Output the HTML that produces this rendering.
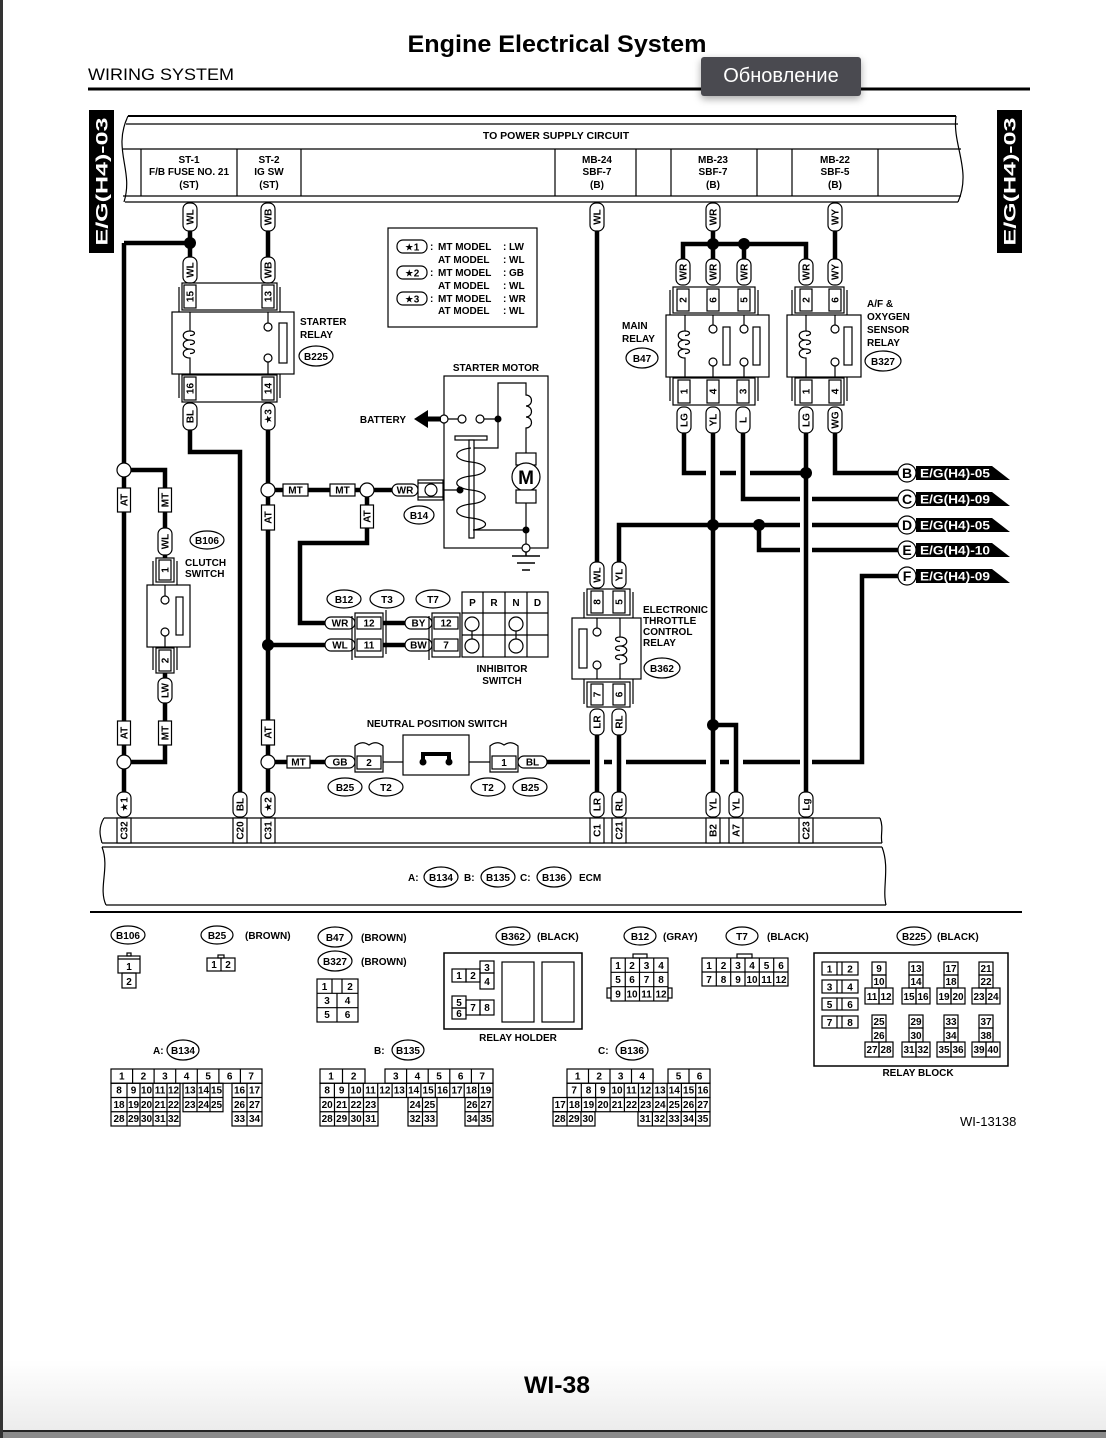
<!DOCTYPE html>
<html><head><meta charset="utf-8">
<style>
html,body{margin:0;padding:0;background:#fff;}
body{width:1106px;height:1438px;position:relative;overflow:hidden;}
svg{position:absolute;left:0;top:0;}
text{font-family:"Liberation Sans",Arial,"DejaVu Sans",sans-serif;font-weight:bold;font-size:10px;fill:#000;}
.c{text-anchor:middle}
.n{font-weight:normal;font-size:9.5px}
.w{stroke:#000;stroke-width:4.5;fill:none}
.t{stroke:#000;stroke-width:1.2;fill:none}
.p{fill:#fff;stroke:#000;stroke-width:1.2}
.k{fill:#000}
.tip{position:absolute;left:701px;top:57px;width:160px;height:39px;background:#4a4a50;border-radius:3px;box-shadow:0 3px 8px rgba(0,0,0,.35);color:#fff;font-family:"Liberation Sans","DejaVu Sans",sans-serif;font-size:20px;line-height:39px;text-align:center;}
</style></head><body>
<svg width="1106" height="1438" viewBox="0 0 1106 1438">
<defs><linearGradient id="g" x1="0" y1="0" x2="0" y2="1"><stop offset="0" stop-color="#fff"/><stop offset="1" stop-color="#ececec"/></linearGradient></defs>
<rect x="0" y="1360" width="1106" height="71" fill="url(#g)"/>
<rect x="0" y="1430" width="1106" height="2" fill="#222"/>
<rect x="0" y="1432" width="1106" height="6" fill="#8a8a8a"/>
<rect x="0" y="0" width="3" height="1438" fill="#333"/>

<!-- header -->
<text x="557" y="52" class="c" textLength="299" lengthAdjust="spacingAndGlyphs" style="font-size:24px">Engine Electrical System</text>
<text x="88" y="80" style="font-size:17px;font-weight:normal" textLength="146" lengthAdjust="spacingAndGlyphs">WIRING SYSTEM</text>
<rect x="88" y="87.5" width="942" height="3" class="k"/>

<!-- side tabs -->
<rect x="89" y="110" width="25" height="143" class="k"/>
<text transform="translate(101.5,181.5) rotate(-90)" y="6" class="c" style="font-size:17px;fill:#fff" textLength="128" lengthAdjust="spacingAndGlyphs">E/G(H4)-03</text>
<rect x="997" y="110" width="25" height="143" class="k"/>
<text transform="translate(1009.5,181.5) rotate(-90)" y="6" class="c" style="font-size:17px;fill:#fff" textLength="128" lengthAdjust="spacingAndGlyphs">E/G(H4)-03</text>

<!-- power supply box -->
<path d="M128,116 H956" stroke="#000" stroke-width="2"/>
<path class="t" d="M126,124 H958 M123,149 H961 M123,196 H961 M125,202 H958"/>
<path class="t" stroke-width="1.5" d="M128,116 C112,150 134,170 124,202"/>
<path class="t" stroke-width="1.5" d="M956,116 C952,145 972,170 958,202"/>
<path class="t" d="M141,149V196 M237,149V196 M301,149V196 M555,149V196 M636,149V196 M671,149V196 M757,149V196 M792,149V196 M878,149V196"/>
<text x="556" y="139" class="c" style="font-size:10.5px">TO POWER SUPPLY CIRCUIT</text>
<text x="189" y="163" class="c">ST-1</text><text x="189" y="175" class="c">F/B FUSE NO. 21</text><text x="189" y="188" class="c">(ST)</text>
<text x="269" y="163" class="c">ST-2</text><text x="269" y="175" class="c">IG SW</text><text x="269" y="188" class="c">(ST)</text>
<text x="597" y="163" class="c">MB-24</text><text x="597" y="175" class="c">SBF-7</text><text x="597" y="188" class="c">(B)</text>
<text x="713" y="163" class="c">MB-23</text><text x="713" y="175" class="c">SBF-7</text><text x="713" y="188" class="c">(B)</text>
<text x="835" y="163" class="c">MB-22</text><text x="835" y="175" class="c">SBF-5</text><text x="835" y="188" class="c">(B)</text>

<!-- legend -->
<rect x="388" y="228" width="149" height="99" class="t" stroke-width="1.5"/>
<rect x="397" y="240" width="30" height="13" rx="6" class="p"/><text x="412" y="250.5" class="c">★1</text>
<rect x="397" y="266" width="30" height="13" rx="6" class="p"/><text x="412" y="276.5" class="c">★2</text>
<rect x="397" y="292" width="30" height="13" rx="6" class="p"/><text x="412" y="302.5" class="c">★3</text>
<g style="font-size:10.5px">
<text x="430" y="250">:</text><text x="438" y="250">MT MODEL</text><text x="503" y="250">:</text><text x="509" y="250">LW</text>
<text x="438" y="263">AT MODEL</text><text x="503" y="263">:</text><text x="509" y="263">WL</text>
<text x="430" y="276">:</text><text x="438" y="276">MT MODEL</text><text x="503" y="276">:</text><text x="509" y="276">GB</text>
<text x="438" y="289">AT MODEL</text><text x="503" y="289">:</text><text x="509" y="289">WL</text>
<text x="430" y="302">:</text><text x="438" y="302">MT MODEL</text><text x="503" y="302">:</text><text x="509" y="302">WR</text>
<text x="438" y="314">AT MODEL</text><text x="503" y="314">:</text><text x="509" y="314">WL</text>
</g>

<!-- thick wires -->
<path class="w" d="M124,243 H190 M190,231 V257 M124,243 V792 M268,231 V257 M190,430 V452 H240 V792 M268,430 V792 M124,470 H165 V528 M165,555 V558 M165,673 V678 M165,703 V762 H124 M268,490 H392 M367,490 V543 H300 V623 H325 M268,645 H325 M383,623 H405 M383,645 H405 M268,762 H325"/>
<path class="w" d="M597,231 V562 M597,735 V792 M619,735 V792 M713,231 V259 M713,433 V792 M713,725 H736 V792 M806,433 V792 M835,231 V259 M683,259 V244 H806 V259 M744,244 V259"/>
<path class="w" d="M684,433 V473 H706 M720,473 H736 M750,473 H806 M835,433 V473 H898 M743,433 V499 H800 M812,499 H898 M619,562 V525 H800 M812,525 H898 M759,525 V550 H800 M812,550 H898 M547,762 H590 M604,762 H612 M626,762 H706 M720,762 H729 M743,762 H800 M812,762 H862 V576 H898"/>

<!-- dots -->
<g class="k"><circle cx="190" cy="243" r="6"/><circle cx="268" cy="645" r="6"/><circle cx="713" cy="244" r="6"/><circle cx="744" cy="244" r="6"/><circle cx="806" cy="473" r="6"/><circle cx="713" cy="525" r="6"/><circle cx="759" cy="525" r="6"/><circle cx="713" cy="725" r="6"/></g>
<!-- open circles -->
<g class="p" stroke-width="1.5"><circle cx="124" cy="470" r="7"/><circle cx="124" cy="762" r="7"/><circle cx="268" cy="490" r="7"/><circle cx="367" cy="490" r="7"/><circle cx="268" cy="762" r="7"/></g>

<!-- pills vertical -->
<g class="p">
<rect x="183" y="203" width="14" height="28" rx="6"/><rect x="261" y="203" width="14" height="28" rx="6"/><rect x="590" y="203" width="14" height="28" rx="6"/><rect x="706" y="203" width="14" height="28" rx="6"/><rect x="828" y="203" width="14" height="28" rx="6"/>
<rect x="183" y="257" width="14" height="26" rx="6"/><rect x="261" y="257" width="14" height="26" rx="6"/>
<rect x="676" y="259" width="14" height="26" rx="6"/><rect x="706" y="259" width="14" height="26" rx="6"/><rect x="737" y="259" width="14" height="26" rx="6"/><rect x="799" y="259" width="14" height="26" rx="6"/><rect x="828" y="259" width="14" height="26" rx="6"/>
<rect x="183" y="403" width="14" height="27" rx="6"/><rect x="261" y="403" width="14" height="27" rx="6"/>
<rect x="677" y="407" width="14" height="26" rx="6"/><rect x="706" y="407" width="14" height="26" rx="6"/><rect x="736" y="407" width="14" height="26" rx="6"/><rect x="799" y="407" width="14" height="26" rx="6"/><rect x="828" y="407" width="14" height="26" rx="6"/>
<rect x="158" y="528" width="14" height="27" rx="6"/><rect x="158" y="678" width="14" height="25" rx="6"/>
<rect x="590" y="562" width="14" height="26" rx="6"/><rect x="612" y="562" width="14" height="26" rx="6"/><rect x="590" y="709" width="14" height="26" rx="6"/><rect x="612" y="709" width="14" height="26" rx="6"/>
<rect x="117" y="792" width="14" height="25" rx="6"/><rect x="233" y="792" width="14" height="25" rx="6"/><rect x="261" y="792" width="14" height="25" rx="6"/><rect x="590" y="792" width="14" height="25" rx="6"/><rect x="612" y="792" width="14" height="25" rx="6"/><rect x="706" y="792" width="14" height="25" rx="6"/><rect x="729" y="792" width="14" height="25" rx="6"/><rect x="799" y="792" width="14" height="25" rx="6"/>
</g>
<g class="c">
<text transform="translate(190,217) rotate(-90)" y="3.5">WL</text><text transform="translate(268,217) rotate(-90)" y="3.5">WB</text><text transform="translate(597,217) rotate(-90)" y="3.5">WL</text><text transform="translate(713,217) rotate(-90)" y="3.5">WR</text><text transform="translate(835,217) rotate(-90)" y="3.5">WY</text>
<text transform="translate(190,270) rotate(-90)" y="3.5">WL</text><text transform="translate(268,270) rotate(-90)" y="3.5">WB</text>
<text transform="translate(683,272) rotate(-90)" y="3.5">WR</text><text transform="translate(713,272) rotate(-90)" y="3.5">WR</text><text transform="translate(744,272) rotate(-90)" y="3.5">WR</text><text transform="translate(806,272) rotate(-90)" y="3.5">WR</text><text transform="translate(835,272) rotate(-90)" y="3.5">WY</text>
<text transform="translate(190,416.5) rotate(-90)" y="3.5">BL</text><text transform="translate(268,416.5) rotate(-90)" y="3.5">★3</text>
<text transform="translate(684,420) rotate(-90)" y="3.5">LG</text><text transform="translate(713,420) rotate(-90)" y="3.5">YL</text><text transform="translate(743,420) rotate(-90)" y="3.5">L</text><text transform="translate(806,420) rotate(-90)" y="3.5">LG</text><text transform="translate(835,420) rotate(-90)" y="3.5">WG</text>
<text transform="translate(165,541.5) rotate(-90)" y="3.5">WL</text><text transform="translate(165,690.5) rotate(-90)" y="3.5">LW</text>
<text transform="translate(597,575) rotate(-90)" y="3.5">WL</text><text transform="translate(619,575) rotate(-90)" y="3.5">YL</text><text transform="translate(597,722) rotate(-90)" y="3.5">LR</text><text transform="translate(619,722) rotate(-90)" y="3.5">RL</text>
<text transform="translate(124,804.5) rotate(-90)" y="3.5">★1</text><text transform="translate(240,804.5) rotate(-90)" y="3.5">BL</text><text transform="translate(268,804.5) rotate(-90)" y="3.5">★2</text><text transform="translate(597,804.5) rotate(-90)" y="3.5">LR</text><text transform="translate(619,804.5) rotate(-90)" y="3.5">RL</text><text transform="translate(713,804.5) rotate(-90)" y="3.5">YL</text><text transform="translate(736,804.5) rotate(-90)" y="3.5">YL</text><text transform="translate(806,804.5) rotate(-90)" y="3.5">Lg</text>
</g>

<!-- AT/MT square labels -->
<g class="p"><rect x="117.5" y="488" width="13" height="24"/><rect x="158.5" y="488" width="13" height="24"/><rect x="261.5" y="505" width="13" height="25"/><rect x="360.5" y="505" width="13" height="23"/><rect x="117.5" y="721" width="13" height="24"/><rect x="158.5" y="721" width="13" height="24"/><rect x="261.5" y="720" width="13" height="25"/>
<rect x="283" y="484" width="25" height="12"/><rect x="330" y="484" width="25" height="12"/><rect x="287" y="756" width="23" height="12"/></g>
<g class="c">
<text transform="translate(124,500) rotate(-90)" y="3.5">AT</text><text transform="translate(165,500) rotate(-90)" y="3.5">MT</text><text transform="translate(268,517.5) rotate(-90)" y="3.5">AT</text><text transform="translate(367,516.5) rotate(-90)" y="3.5">AT</text><text transform="translate(124,733) rotate(-90)" y="3.5">AT</text><text transform="translate(165,733) rotate(-90)" y="3.5">MT</text><text transform="translate(268,732.5) rotate(-90)" y="3.5">AT</text>
<text x="295.5" y="493.5">MT</text><text x="342.5" y="493.5">MT</text><text x="298.5" y="765.5">MT</text>
</g>

<!-- relay connectors -->
<g class="t">
<rect x="182" y="283" width="95" height="27"/><path d="M179,287V313 M280,287V313"/>
<rect x="182" y="375" width="95" height="27"/><path d="M179,372V398 M280,372V398"/>
<rect x="673" y="287" width="82" height="26"/><path d="M670,290V316 M758,290V316"/>
<rect x="673" y="378" width="82" height="27"/><path d="M670,375V401 M758,375V401"/>
<rect x="795" y="287" width="49" height="26"/><path d="M792,290V316 M847,290V316"/>
<rect x="795" y="378" width="49" height="27"/><path d="M792,375V401 M847,375V401"/>
<rect x="156" y="558" width="18" height="24"/><path d="M153,561V585 M177,561V585"/>
<rect x="156" y="648" width="18" height="25"/><path d="M153,645V670 M177,645V670"/>
<rect x="587" y="589" width="43" height="26"/><path d="M584,592V618 M633,592V618"/>
<rect x="587" y="682" width="43" height="25"/><path d="M584,679V704 M633,679V704"/>
</g>
<g class="p">
<rect x="184" y="285" width="12" height="23"/><rect x="262" y="285" width="12" height="23"/>
<rect x="184" y="377" width="12" height="23"/><rect x="262" y="377" width="12" height="23"/>
<rect x="677" y="289" width="12" height="22"/><rect x="707" y="289" width="12" height="22"/><rect x="738" y="289" width="12" height="22"/>
<rect x="678" y="380" width="12" height="23"/><rect x="707" y="380" width="12" height="23"/><rect x="737" y="380" width="12" height="23"/>
<rect x="800" y="289" width="12" height="22"/><rect x="829" y="289" width="12" height="22"/>
<rect x="800" y="380" width="12" height="23"/><rect x="829" y="380" width="12" height="23"/>
<rect x="159" y="560" width="12" height="20"/><rect x="159" y="650" width="12" height="21"/>
<rect x="591" y="591" width="12" height="22"/><rect x="613" y="591" width="12" height="22"/>
<rect x="591" y="684" width="12" height="21"/><rect x="613" y="684" width="12" height="21"/>
</g>
<g class="c" style="font-size:9.5px">
<text transform="translate(190,296.5) rotate(-90)" y="3.5">15</text><text transform="translate(268,296.5) rotate(-90)" y="3.5">13</text>
<text transform="translate(190,388.5) rotate(-90)" y="3.5">16</text><text transform="translate(268,388.5) rotate(-90)" y="3.5">14</text>
<text transform="translate(683,300) rotate(-90)" y="3.5">2</text><text transform="translate(713,300) rotate(-90)" y="3.5">6</text><text transform="translate(744,300) rotate(-90)" y="3.5">5</text>
<text transform="translate(684,391.5) rotate(-90)" y="3.5">1</text><text transform="translate(713,391.5) rotate(-90)" y="3.5">4</text><text transform="translate(743,391.5) rotate(-90)" y="3.5">3</text>
<text transform="translate(806,300) rotate(-90)" y="3.5">2</text><text transform="translate(835,300) rotate(-90)" y="3.5">6</text>
<text transform="translate(806,391.5) rotate(-90)" y="3.5">1</text><text transform="translate(835,391.5) rotate(-90)" y="3.5">4</text>
<text transform="translate(165,570) rotate(-90)" y="3.5">1</text><text transform="translate(165,660.5) rotate(-90)" y="3.5">2</text>
<text transform="translate(597,602) rotate(-90)" y="3.5">8</text><text transform="translate(619,602) rotate(-90)" y="3.5">5</text>
<text transform="translate(597,694.5) rotate(-90)" y="3.5">7</text><text transform="translate(619,694.5) rotate(-90)" y="3.5">6</text>
</g>

<!-- relays internals -->
<g class="t" stroke-width="1.3">
<rect x="172" y="312" width="122" height="62" class="p"/>
<path d="M190,312V331 c-9,0 -9,9 0,9 c-9,0 -9,9 0,9 c-9,0 -9,9 0,9 V374 M268,312V323 M268,362V374"/>
<path d="M190,331 c6,0 6,4.5 0,4.5 M190,340 c6,0 6,4.5 0,4.5 M190,349 c6,0 6,4.5 0,4.5"/>
<circle cx="268" cy="327" r="4"/><circle cx="268" cy="358" r="4"/><rect x="279" y="323" width="8" height="40"/>
<rect x="666" y="315" width="103" height="62" class="p"/>
<path d="M685,315V331 c-9,0 -9,9 0,9 c-9,0 -9,9 0,9 c-9,0 -9,9 0,9 V377 M713,315V325 M713,366V377 M744,315V325 M744,366V377"/>
<path d="M685,331 c6,0 6,4.5 0,4.5 M685,340 c6,0 6,4.5 0,4.5 M685,349 c6,0 6,4.5 0,4.5"/>
<circle cx="713" cy="329" r="4"/><circle cx="713" cy="362" r="4"/><circle cx="744" cy="329" r="4"/><circle cx="744" cy="362" r="4"/>
<rect x="723" y="327" width="7" height="38"/><rect x="753" y="327" width="7" height="38"/>
<rect x="787" y="315" width="74" height="62" class="p"/>
<path d="M806,315V331 c-9,0 -9,9 0,9 c-9,0 -9,9 0,9 c-9,0 -9,9 0,9 V377 M835,315V325 M835,366V377"/>
<path d="M806,331 c6,0 6,4.5 0,4.5 M806,340 c6,0 6,4.5 0,4.5 M806,349 c6,0 6,4.5 0,4.5"/>
<circle cx="835" cy="329" r="4"/><circle cx="835" cy="362" r="4"/><rect x="844" y="327" width="8" height="38"/>
<rect x="572" y="618" width="69" height="61" class="p"/>
<path d="M597,618V628 M597,669V679 M620,618V637 c9,0 9,9 0,9 c9,0 9,9 0,9 c9,0 9,9 0,9 V679"/>
<path d="M620,637 c-6,0 -6,4.5 0,4.5 M620,646 c-6,0 -6,4.5 0,4.5 M620,655 c-6,0 -6,4.5 0,4.5"/>
<circle cx="597" cy="632" r="4"/><circle cx="597" cy="665" r="4"/><rect x="579" y="629" width="8" height="39"/>
<rect x="147" y="585" width="43" height="62" class="p"/>
<path d="M165,585V596 M165,636V647"/>
<circle cx="165" cy="600" r="4"/><circle cx="165" cy="632" r="4"/><rect x="176" y="597" width="7" height="38"/>
</g>

<!-- labels near relays -->
<g style="font-size:10.5px">
<text x="300" y="325">STARTER</text><text x="300" y="338">RELAY</text>
<text x="622" y="329">MAIN</text><text x="622" y="342">RELAY</text>
<text x="867" y="307">A/F &amp;</text><text x="867" y="320">OXYGEN</text><text x="867" y="333">SENSOR</text><text x="867" y="346">RELAY</text>
<text x="185" y="566">CLUTCH</text><text x="185" y="577">SWITCH</text>
<text x="496" y="371" class="c">STARTER MOTOR</text>
<text x="406" y="423" style="text-anchor:end">BATTERY</text>
<text x="502" y="672" class="c">INHIBITOR</text><text x="502" y="684" class="c">SWITCH</text>
<text x="437" y="727" class="c">NEUTRAL POSITION SWITCH</text>
</g>
<g style="font-size:10px"><text x="643" y="613">ELECTRONIC</text><text x="643" y="624">THROTTLE</text><text x="643" y="635">CONTROL</text><text x="643" y="646">RELAY</text></g>

<!-- ovals -->
<g class="p" stroke-width="1.3">
<ellipse cx="316" cy="356" rx="17" ry="10"/><ellipse cx="642" cy="358" rx="16" ry="10"/><ellipse cx="883" cy="361" rx="18" ry="10"/><ellipse cx="662" cy="668" rx="18" ry="10"/>
<ellipse cx="419" cy="515" rx="15" ry="9"/><ellipse cx="207" cy="540" rx="17" ry="9"/>
<ellipse cx="344" cy="599" rx="17" ry="9"/><ellipse cx="387" cy="599" rx="17" ry="9"/><ellipse cx="433" cy="599" rx="17" ry="9"/>
<ellipse cx="345" cy="787" rx="17" ry="9"/><ellipse cx="386" cy="787" rx="17" ry="9"/><ellipse cx="488" cy="787" rx="17" ry="9"/><ellipse cx="530" cy="787" rx="17" ry="9"/>
</g>
<g class="c">
<text x="316" y="360">B225</text><text x="642" y="362">B47</text><text x="883" y="365">B327</text><text x="662" y="672">B362</text>
<text x="419" y="519">B14</text><text x="207" y="544">B106</text>
<text x="344" y="603">B12</text><text x="387" y="603">T3</text><text x="433" y="603">T7</text>
<text x="345" y="791">B25</text><text x="386" y="791">T2</text><text x="488" y="791">T2</text><text x="530" y="791">B25</text>
</g>

<!-- B14 connector & starter motor -->
<rect x="392" y="484" width="26" height="12" rx="6" class="p"/><text x="405" y="493.5" class="c">WR</text>
<rect x="418" y="480" width="25" height="20" class="p"/><path class="t" d="M418,483H443 M418,497H443"/><circle cx="431" cy="490" r="6" class="p"/>
<g class="t" stroke-width="1.3">
<rect x="444" y="376" width="104" height="172"/>
<path d="M448,419H458 M484,419H498 V383 H526 V395 a5.5,5.5 0 1 1 0,11 a5.5,5.5 0 1 1 0,11 a5.5,5.5 0 1 1 0,11 V453 M526,503V548 M498,419V448H471 M443,490H460 M472,530H526"/>
<rect x="516" y="453" width="20" height="12" class="p"/><circle cx="526" cy="477" r="14" class="p"/><rect x="516" y="490" width="20" height="13" class="p"/>
<rect x="455" y="436" width="32" height="4" class="p"/><rect x="469" y="440" width="5" height="98" class="p"/>
<path d="M471,448 C452,450 452,460 471,462 C490,464 490,474 471,476 C452,478 452,488 471,490 C490,492 490,502 471,504 C452,506 452,516 471,518 C490,520 490,528 473,530"/>
<path d="M526,552V556 M512,556H540 M517,563H535 M522,570H530" stroke-width="1.5"/>
</g>
<circle cx="444" cy="419" r="4" class="p"/><circle cx="462" cy="419" r="4" class="p"/><circle cx="480" cy="419" r="4" class="p"/>
<circle cx="498" cy="419" r="3.5" class="k"/><circle cx="460" cy="490" r="3.5" class="k"/><circle cx="526" cy="530" r="3.5" class="k"/><circle cx="526" cy="548" r="4" class="p"/>
<polygon points="414,419 428,410 428,428" class="k"/><rect x="427" y="416.5" width="14" height="5" class="k"/>
<text x="526" y="484" class="c" style="font-size:19px">M</text>

<!-- inhibitor -->
<rect x="325" y="617" width="30" height="12" rx="6" class="p"/><text x="340" y="626.5" class="c">WR</text>
<rect x="325" y="639" width="30" height="12" rx="6" class="p"/><text x="340" y="648.5" class="c">WL</text>
<rect x="355" y="613" width="28" height="44" class="t"/><path class="t" d="M352,616V660 M386,610V654"/>
<rect x="357" y="617" width="24" height="12" class="p"/><text x="369" y="626.5" class="c">12</text>
<rect x="357" y="639" width="24" height="12" class="p"/><text x="369" y="648.5" class="c">11</text>
<rect x="405" y="617" width="27" height="12" rx="6" class="p"/><text x="418.5" y="626.5" class="c">BY</text>
<rect x="405" y="639" width="27" height="12" rx="6" class="p"/><text x="418.5" y="648.5" class="c">BW</text>
<rect x="432" y="613" width="28" height="44" class="t"/><path class="t" d="M429,616V660"/>
<rect x="434" y="617" width="24" height="12" class="p"/><text x="446" y="626.5" class="c">12</text>
<rect x="434" y="639" width="24" height="12" class="p"/><text x="446" y="648.5" class="c">7</text>
<rect x="462" y="592" width="86" height="65" class="t" stroke-width="1.5"/>
<path class="t" d="M483,592V657 M505,592V657 M527,592V657 M462,613H548 M462,635H548 M472,631V639 M516,631V639"/>
<g class="c"><text x="472.5" y="606">P</text><text x="494" y="606">R</text><text x="516" y="606">N</text><text x="537.5" y="606">D</text></g>
<g class="p"><circle cx="472" cy="624" r="7"/><circle cx="472" cy="646" r="7"/><circle cx="516" cy="624" r="7"/><circle cx="516" cy="646" r="7"/></g>

<!-- neutral position switch -->
<rect x="325" y="756" width="30" height="12" rx="6" class="p"/><text x="340" y="765.5" class="c">GB</text>
<path class="p" d="M355,772 V746 Q362,740 369,745 Q376,740 383,746 V772 Z"/>
<rect x="357" y="756" width="24" height="13" class="p"/><text x="369" y="766" class="c">2</text>
<path class="t" d="M383,762H403 M469,762H490"/>
<rect x="403" y="735" width="66" height="40" class="t" stroke-width="1.5"/>
<path d="M423,762V754H449V762" stroke="#000" stroke-width="4" fill="none"/>
<circle cx="423" cy="762" r="3.5" class="k"/><circle cx="449" cy="762" r="3.5" class="k"/>
<path class="p" d="M490,772 V746 Q497,740 504,745 Q511,740 518,746 V772 Z"/>
<rect x="492" y="756" width="24" height="13" class="p"/><text x="504" y="766" class="c">1</text>
<rect x="518" y="756" width="29" height="12" rx="6" class="p"/><text x="532.5" y="765.5" class="c">BL</text>

<!-- connector letters -->
<g>
<polygon points="916,466 992,466 1010,480 916,480" class="k"/><circle cx="907" cy="473" r="9" class="p" stroke-width="2"/><text x="907" y="478" class="c" style="font-size:14px">B</text><text x="920" y="477.5" style="fill:#fff;font-size:12px" textLength="70" lengthAdjust="spacingAndGlyphs">E/G(H4)-05</text>
<polygon points="916,492 992,492 1010,506 916,506" class="k"/><circle cx="907" cy="499" r="9" class="p" stroke-width="2"/><text x="907" y="504" class="c" style="font-size:14px">C</text><text x="920" y="503.5" style="fill:#fff;font-size:12px" textLength="70" lengthAdjust="spacingAndGlyphs">E/G(H4)-09</text>
<polygon points="916,518 992,518 1010,532 916,532" class="k"/><circle cx="907" cy="525" r="9" class="p" stroke-width="2"/><text x="907" y="530" class="c" style="font-size:14px">D</text><text x="920" y="529.5" style="fill:#fff;font-size:12px" textLength="70" lengthAdjust="spacingAndGlyphs">E/G(H4)-05</text>
<polygon points="916,543 992,543 1010,557 916,557" class="k"/><circle cx="907" cy="550" r="9" class="p" stroke-width="2"/><text x="907" y="555" class="c" style="font-size:14px">E</text><text x="920" y="554.5" style="fill:#fff;font-size:12px" textLength="70" lengthAdjust="spacingAndGlyphs">E/G(H4)-10</text>
<polygon points="916,569 992,569 1010,583 916,583" class="k"/><circle cx="907" cy="576" r="9" class="p" stroke-width="2"/><text x="907" y="581" class="c" style="font-size:14px">F</text><text x="920" y="580.5" style="fill:#fff;font-size:12px" textLength="70" lengthAdjust="spacingAndGlyphs">E/G(H4)-09</text>
</g>

<!-- ECM -->
<path class="t" stroke-width="1.5" d="M104,818 H880 M102,843 H882 M102,847 H882 M106,905 H886 M104,818 C98,828 100,836 102,843 M880,818 C884,828 880,836 882,843 M102,847 C110,868 98,888 106,905 M882,847 C890,868 882,888 886,905"/>
<g class="p"><rect x="117" y="818" width="14" height="25"/><rect x="233" y="818" width="14" height="25"/><rect x="261" y="818" width="14" height="25"/><rect x="590" y="818" width="14" height="25"/><rect x="612" y="818" width="14" height="25"/><rect x="706" y="818" width="14" height="25"/><rect x="729" y="818" width="14" height="25"/><rect x="799" y="818" width="14" height="25"/></g>
<g class="c" style="font-size:9.5px">
<text transform="translate(124,830.5) rotate(-90)" y="3.5">C32</text><text transform="translate(240,830.5) rotate(-90)" y="3.5">C20</text><text transform="translate(268,830.5) rotate(-90)" y="3.5">C31</text><text transform="translate(597,830.5) rotate(-90)" y="3.5">C1</text><text transform="translate(619,830.5) rotate(-90)" y="3.5">C21</text><text transform="translate(713,830.5) rotate(-90)" y="3.5">B2</text><text transform="translate(736,830.5) rotate(-90)" y="3.5">A7</text><text transform="translate(806,830.5) rotate(-90)" y="3.5">C23</text>
</g>
<text x="408" y="881">A:</text><ellipse cx="441" cy="877" rx="17" ry="10" class="p"/><text x="441" y="881" class="c">B134</text>
<text x="464" y="881">B:</text><ellipse cx="498" cy="877" rx="17" ry="10" class="p"/><text x="498" y="881" class="c">B135</text>
<text x="520" y="881">C:</text><ellipse cx="554" cy="877" rx="17" ry="10" class="p"/><text x="554" y="881" class="c">B136</text>
<text x="579" y="881">ECM</text>
<rect x="90" y="911" width="932" height="2" class="k"/>

<!-- connector views -->
<g class="p" stroke-width="1.3">
<ellipse cx="128" cy="935" rx="17" ry="9"/><ellipse cx="217" cy="935" rx="16" ry="9"/><ellipse cx="335" cy="937" rx="17" ry="10"/><ellipse cx="335" cy="961" rx="17" ry="10"/><ellipse cx="513" cy="936" rx="17" ry="9"/><ellipse cx="640" cy="936" rx="16" ry="9"/><ellipse cx="742" cy="936" rx="16" ry="9"/><ellipse cx="914" cy="936" rx="17" ry="9"/>
<ellipse cx="183" cy="1050" rx="16" ry="10"/><ellipse cx="408" cy="1050" rx="16" ry="10"/><ellipse cx="632" cy="1050" rx="16" ry="10"/>
</g>
<g class="c"><text x="128" y="939">B106</text><text x="217" y="939">B25</text><text x="335" y="941">B47</text><text x="335" y="965">B327</text><text x="513" y="940">B362</text><text x="640" y="940">B12</text><text x="742" y="940">T7</text><text x="914" y="940">B225</text>
<text x="183" y="1054">B134</text><text x="408" y="1054">B135</text><text x="632" y="1054">B136</text></g>
<g style="font-size:11px"><text x="245" y="939">(BROWN)</text><text x="361" y="941">(BROWN)</text><text x="361" y="965">(BROWN)</text><text x="537" y="940">(BLACK)</text><text x="663" y="940">(GRAY)</text><text x="767" y="940">(BLACK)</text><text x="937" y="940">(BLACK)</text>
<text x="153" y="1054">A:</text><text x="374" y="1054">B:</text><text x="598" y="1054">C:</text>
<text x="518" y="1041" class="c">RELAY HOLDER</text><text x="918" y="1076" class="c">RELAY BLOCK</text></g>
<text x="960" y="1126" style="font-weight:normal;font-size:13px">WI-13138</text>

<g class="t" stroke-width="1">
<rect x="127" y="953" width="4" height="3"/><rect x="118" y="956" width="22" height="17"/><path d="M118,959H140"/><rect x="122" y="973" width="14" height="15"/>
<rect x="218" y="955" width="6" height="3"/><rect x="207" y="958" width="28" height="13"/><path d="M221,958V971"/>
<rect x="317" y="979" width="41" height="43"/><path d="M317,993.3H358 M317,1007.7H358 M332,979V993.3 M342,979V993.3 M337,993.3V1022"/>
<rect x="444" y="953" width="138" height="76" stroke-width="1.5"/><rect x="502" y="962" width="32" height="60"/><rect x="542" y="962" width="32" height="60"/>
<rect x="452" y="969" width="14" height="13"/><rect x="466" y="969" width="14" height="13"/><rect x="480" y="961" width="14" height="12"/><rect x="480" y="973" width="14" height="16"/>
<rect x="452" y="996" width="14" height="12"/><rect x="452" y="1008" width="14" height="11"/><rect x="466" y="1000" width="14" height="15"/><rect x="480" y="1000" width="14" height="15"/>
<rect x="633" y="954" width="14" height="4"/><rect x="607" y="988" width="4" height="10"/><rect x="668" y="988" width="4" height="10"/>
<rect x="611" y="958" width="57" height="43"/><path d="M625.25,958V1001 M639.5,958V1001 M653.75,958V1001 M611,972.3H668 M611,986.7H668"/>
<rect x="737" y="954" width="15" height="4"/><rect x="702" y="958" width="86" height="28"/><path d="M716.3,958V986 M730.7,958V986 M745,958V986 M759.3,958V986 M773.7,958V986 M702,972H788"/>
<rect x="814" y="953" width="194" height="113" stroke-width="1.5"/>
<rect x="822" y="962" width="36" height="13"/><rect x="822" y="980" width="36" height="13"/><rect x="822" y="998" width="36" height="12"/><rect x="822" y="1016" width="36" height="12"/>
<path d="M837,962V975 M842,962V975 M837,980V993 M842,980V993 M837,998V1010 M842,998V1010 M837,1016V1028 M842,1016V1028"/>
<rect x="872" y="962" width="14" height="13"/><rect x="872" y="975" width="14" height="13"/><rect x="865" y="988" width="14" height="16"/><rect x="879" y="988" width="14" height="16"/>
<rect x="909" y="962" width="14" height="13"/><rect x="909" y="975" width="14" height="13"/><rect x="902" y="988" width="14" height="16"/><rect x="916" y="988" width="14" height="16"/>
<rect x="944" y="962" width="14" height="13"/><rect x="944" y="975" width="14" height="13"/><rect x="937" y="988" width="14" height="16"/><rect x="951" y="988" width="14" height="16"/>
<rect x="979" y="962" width="14" height="13"/><rect x="979" y="975" width="14" height="13"/><rect x="972" y="988" width="14" height="16"/><rect x="986" y="988" width="14" height="16"/>
<rect x="872" y="1015" width="14" height="13"/><rect x="872" y="1028" width="14" height="14"/><rect x="865" y="1042" width="14" height="15"/><rect x="879" y="1042" width="14" height="15"/>
<rect x="909" y="1015" width="14" height="13"/><rect x="909" y="1028" width="14" height="14"/><rect x="902" y="1042" width="14" height="15"/><rect x="916" y="1042" width="14" height="15"/>
<rect x="944" y="1015" width="14" height="13"/><rect x="944" y="1028" width="14" height="14"/><rect x="937" y="1042" width="14" height="15"/><rect x="951" y="1042" width="14" height="15"/>
<rect x="979" y="1015" width="14" height="13"/><rect x="979" y="1028" width="14" height="14"/><rect x="972" y="1042" width="14" height="15"/><rect x="986" y="1042" width="14" height="15"/>
<rect x="111" y="1069" width="151" height="14.25"/><path d="M132.6,1069V1083.25 M154.1,1069V1083.25 M175.7,1069V1083.25 M197.3,1069V1083.25 M218.9,1069V1083.25 M240.4,1069V1083.25"/>
<rect x="111" y="1083.25" width="69" height="42.75"/><rect x="183" y="1083.25" width="40" height="28.5"/><rect x="232" y="1083.25" width="30" height="42.75"/>
<path d="M127,1083.25V1126 M140,1083.25V1126 M153,1083.25V1126 M167,1083.25V1126 M111,1097.5H180 M111,1111.75H180 M197,1083.25V1111.75 M210,1083.25V1111.75 M183,1097.5H223 M247,1083.25V1126 M232,1097.5H262 M232,1111.75H262"/>
<rect x="320" y="1069" width="45" height="14.25"/><path d="M342.5,1069V1083.25"/>
<rect x="385" y="1069" width="108" height="14.25"/><path d="M406.6,1069V1083.25 M428.2,1069V1083.25 M449.8,1069V1083.25 M471.4,1069V1083.25"/>
<rect x="320" y="1083.25" width="173" height="14.25"/><path d="M334.4,1083.25V1097.5 M348.8,1083.25V1097.5 M363.3,1083.25V1097.5 M377.7,1083.25V1097.5 M392.1,1083.25V1097.5 M406.5,1083.25V1097.5 M420.9,1083.25V1097.5 M435.3,1083.25V1097.5 M449.8,1083.25V1097.5 M464.2,1083.25V1097.5 M478.6,1083.25V1097.5"/>
<rect x="320" y="1097.5" width="58" height="28.5"/><path d="M334.5,1097.5V1126 M349,1097.5V1126 M363.5,1097.5V1126 M320,1111.75H378"/>
<rect x="408" y="1097.5" width="29" height="28.5"/><path d="M422.5,1097.5V1126 M408,1111.75H437"/>
<rect x="465" y="1097.5" width="28" height="28.5"/><path d="M479,1097.5V1126 M465,1111.75H493"/>
<rect x="567" y="1069" width="86" height="14.25"/><path d="M588.5,1069V1083.25 M610,1069V1083.25 M631.5,1069V1083.25"/>
<rect x="668" y="1069" width="42" height="14.25"/><path d="M689,1069V1083.25"/>
<rect x="567" y="1083.25" width="143" height="14.25"/><path d="M581.3,1083.25V1097.5 M595.6,1083.25V1097.5 M609.9,1083.25V1097.5 M624.2,1083.25V1097.5 M638.5,1083.25V1097.5 M652.8,1083.25V1097.5 M667.1,1083.25V1097.5 M681.4,1083.25V1097.5 M695.7,1083.25V1097.5"/>
<rect x="553" y="1097.5" width="157" height="14.25"/><path d="M567.3,1097.5V1111.75 M581.5,1097.5V1111.75 M595.8,1097.5V1111.75 M610.1,1097.5V1111.75 M624.4,1097.5V1111.75 M638.6,1097.5V1111.75 M652.9,1097.5V1111.75 M667.2,1097.5V1111.75 M681.5,1097.5V1111.75 M695.7,1097.5V1111.75"/>
<rect x="553" y="1111.75" width="42" height="14.25"/><path d="M567,1111.75V1126 M581,1111.75V1126"/>
<rect x="638" y="1111.75" width="72" height="14.25"/><path d="M652.4,1111.75V1126 M666.8,1111.75V1126 M681.2,1111.75V1126 M695.6,1111.75V1126"/>
</g>

<g class="c n">
<text x="129" y="970">1</text><text x="129" y="985">2</text>
<text x="214" y="968">1</text><text x="228" y="968">2</text>
<text x="324.5" y="990">1</text><text x="350" y="990">2</text><text x="327" y="1004">3</text><text x="347.5" y="1004">4</text><text x="327" y="1018">5</text><text x="347.5" y="1018">6</text>
<text x="459" y="979">1</text><text x="473" y="979">2</text><text x="487" y="971">3</text><text x="487" y="985">4</text><text x="459" y="1006">5</text><text x="459" y="1017">6</text><text x="473" y="1011">7</text><text x="487" y="1011">8</text>
<text x="618" y="969">1</text><text x="632" y="969">2</text><text x="646.5" y="969">3</text><text x="661" y="969">4</text>
<text x="618" y="983">5</text><text x="632" y="983">6</text><text x="646.5" y="983">7</text><text x="661" y="983">8</text>
<text x="618" y="997.5">9</text><text x="632" y="997.5">10</text><text x="646.5" y="997.5">11</text><text x="661" y="997.5">12</text>
<text x="709" y="969">1</text><text x="723.5" y="969">2</text><text x="738" y="969">3</text><text x="752" y="969">4</text><text x="766.5" y="969">5</text><text x="781" y="969">6</text>
<text x="709" y="983">7</text><text x="723.5" y="983">8</text><text x="738" y="983">9</text><text x="752" y="983">10</text><text x="766.5" y="983">11</text><text x="781" y="983">12</text>
<text x="829.5" y="972.5">1</text><text x="850" y="972.5">2</text><text x="829.5" y="990.5">3</text><text x="850" y="990.5">4</text><text x="829.5" y="1008">5</text><text x="850" y="1008">6</text><text x="829.5" y="1026">7</text><text x="850" y="1026">8</text>
<text x="879" y="972">9</text><text x="879" y="985">10</text><text x="872" y="1000">11</text><text x="886" y="1000">12</text>
<text x="916" y="972">13</text><text x="916" y="985">14</text><text x="909" y="1000">15</text><text x="923" y="1000">16</text>
<text x="951" y="972">17</text><text x="951" y="985">18</text><text x="944" y="1000">19</text><text x="958" y="1000">20</text>
<text x="986" y="972">21</text><text x="986" y="985">22</text><text x="979" y="1000">23</text><text x="993" y="1000">24</text>
<text x="879" y="1025">25</text><text x="879" y="1039">26</text><text x="872" y="1053">27</text><text x="886" y="1053">28</text>
<text x="916" y="1025">29</text><text x="916" y="1039">30</text><text x="909" y="1053">31</text><text x="923" y="1053">32</text>
<text x="951" y="1025">33</text><text x="951" y="1039">34</text><text x="944" y="1053">35</text><text x="958" y="1053">36</text>
<text x="986" y="1025">37</text><text x="986" y="1039">38</text><text x="979" y="1053">39</text><text x="993" y="1053">40</text>
<text x="121.8" y="1079.5">1</text><text x="143.4" y="1079.5">2</text><text x="164.9" y="1079.5">3</text><text x="186.5" y="1079.5">4</text><text x="208.1" y="1079.5">5</text><text x="229.6" y="1079.5">6</text><text x="251.2" y="1079.5">7</text>
<text x="119" y="1093.7">8</text><text x="133.5" y="1093.7">9</text><text x="146.5" y="1093.7">10</text><text x="160" y="1093.7">11</text><text x="173.5" y="1093.7">12</text><text x="190" y="1093.7">13</text><text x="203.5" y="1093.7">14</text><text x="216.5" y="1093.7">15</text><text x="239.5" y="1093.7">16</text><text x="254.5" y="1093.7">17</text>
<text x="119" y="1108">18</text><text x="133.5" y="1108">19</text><text x="146.5" y="1108">20</text><text x="160" y="1108">21</text><text x="173.5" y="1108">22</text><text x="190" y="1108">23</text><text x="203.5" y="1108">24</text><text x="216.5" y="1108">25</text><text x="239.5" y="1108">26</text><text x="254.5" y="1108">27</text>
<text x="119" y="1122.2">28</text><text x="133.5" y="1122.2">29</text><text x="146.5" y="1122.2">30</text><text x="160" y="1122.2">31</text><text x="173.5" y="1122.2">32</text><text x="239.5" y="1122.2">33</text><text x="254.5" y="1122.2">34</text>
<text x="331" y="1079.5">1</text><text x="353.7" y="1079.5">2</text><text x="395.8" y="1079.5">3</text><text x="417.4" y="1079.5">4</text><text x="439" y="1079.5">5</text><text x="460.6" y="1079.5">6</text><text x="482.2" y="1079.5">7</text>
<text x="327.2" y="1093.7">8</text><text x="341.6" y="1093.7">9</text><text x="356" y="1093.7">10</text><text x="370.5" y="1093.7">11</text><text x="384.9" y="1093.7">12</text><text x="399.3" y="1093.7">13</text><text x="413.7" y="1093.7">14</text><text x="428.1" y="1093.7">15</text><text x="442.5" y="1093.7">16</text><text x="457" y="1093.7">17</text><text x="471.4" y="1093.7">18</text><text x="485.8" y="1093.7">19</text>
<text x="327.2" y="1108">20</text><text x="341.7" y="1108">21</text><text x="356.2" y="1108">22</text><text x="370.7" y="1108">23</text><text x="415.2" y="1108">24</text><text x="429.7" y="1108">25</text><text x="472" y="1108">26</text><text x="486" y="1108">27</text>
<text x="327.2" y="1122.2">28</text><text x="341.7" y="1122.2">29</text><text x="356.2" y="1122.2">30</text><text x="370.7" y="1122.2">31</text><text x="415.2" y="1122.2">32</text><text x="429.7" y="1122.2">33</text><text x="472" y="1122.2">34</text><text x="486" y="1122.2">35</text>
<text x="577.7" y="1079.5">1</text><text x="599.2" y="1079.5">2</text><text x="620.7" y="1079.5">3</text><text x="642.2" y="1079.5">4</text><text x="678.5" y="1079.5">5</text><text x="699.5" y="1079.5">6</text>
<text x="574.2" y="1093.7">7</text><text x="588.5" y="1093.7">8</text><text x="602.8" y="1093.7">9</text><text x="617" y="1093.7">10</text><text x="631.4" y="1093.7">11</text><text x="645.7" y="1093.7">12</text><text x="660" y="1093.7">13</text><text x="674.3" y="1093.7">14</text><text x="688.6" y="1093.7">15</text><text x="702.9" y="1093.7">16</text>
<text x="560.2" y="1108">17</text><text x="574.4" y="1108">18</text><text x="588.7" y="1108">19</text><text x="603" y="1108">20</text><text x="617.3" y="1108">21</text><text x="631.5" y="1108">22</text><text x="645.8" y="1108">23</text><text x="660" y="1108">24</text><text x="674.3" y="1108">25</text><text x="688.6" y="1108">26</text><text x="702.9" y="1108">27</text>
<text x="560" y="1122.2">28</text><text x="574" y="1122.2">29</text><text x="588" y="1122.2">30</text><text x="645.2" y="1122.2">31</text><text x="659.6" y="1122.2">32</text><text x="674" y="1122.2">33</text><text x="688.4" y="1122.2">34</text><text x="702.8" y="1122.2">35</text>
</g>

<text x="557" y="1393" class="c" style="font-size:24px" textLength="66" lengthAdjust="spacingAndGlyphs">WI-38</text>
</svg>
<div class="tip">Обновление</div>
</body></html>
